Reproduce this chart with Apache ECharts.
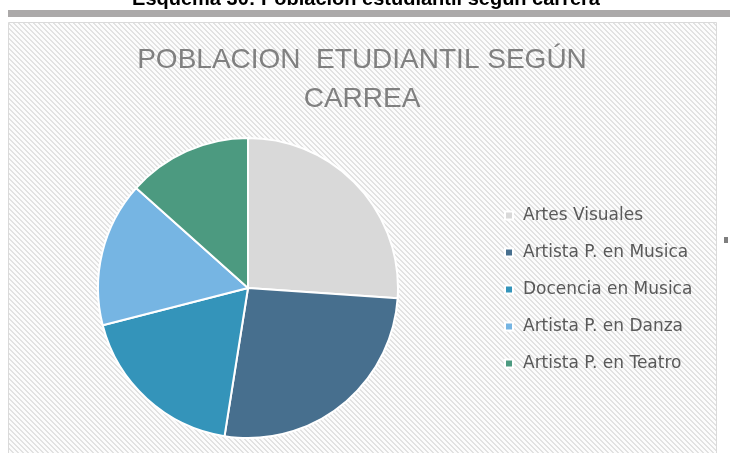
<!DOCTYPE html>
<html>
<head>
<meta charset="utf-8">
<script src="https://cdn.jsdelivr.net/npm/echarts@6/dist/echarts.min.js"></script>
<style>
  html, body { margin: 0; padding: 0; background: #ffffff; }
  #chart { width: 730px; height: 453px; }
</style>
</head>
<body>
<div id="chart"></div>
<script>
// Student population by programme (share of the pie)
const categories = [
  'Artes Visuales',
  'Artista P. en Musica',
  'Docencia en Musica',
  'Artista P. en Danza',
  'Artista P. en Teatro'
];
const values = [26.1, 26.4, 18.5, 15.6, 13.4];
const sliceColors = ['#D9D9D9', '#476F8E', '#3494BA', '#76B5E3', '#4C9A80'];
const chartTitle = 'POBLACION  ETUDIANTIL SEGÚN\nCARREA';
const captionText = 'Esquema 30: Población estudiantil según carrera';

// Light diagonal hatch used as the chart-area fill
function makeHatch() {
  const n = 5;
  const c = document.createElement('canvas');
  c.width = n; c.height = n;
  const ctx = c.getContext('2d');
  const img = ctx.createImageData(n, n);
  for (let y = 0; y < n; y++) {
    for (let x = 0; x < n; x++) {
      const k = ((x - y) % n + n) % n;
      const v = (k === 0 || k === 1) ? 226 : 252;
      const i = (y * n + x) * 4;
      img.data[i] = v; img.data[i + 1] = v; img.data[i + 2] = v; img.data[i + 3] = 255;
    }
  }
  ctx.putImageData(img, 0, 0);
  return c;
}

const chart = echarts.init(document.getElementById('chart'), null, { renderer: 'canvas' });

const option = {
  backgroundColor: '#ffffff',
  animation: false,
  title: {
    text: chartTitle,
    left: 357,
    textAlign: 'center',
    top: 36,
    textStyle: {
      fontFamily: 'Liberation Sans',
      fontSize: 28,
      fontWeight: 'normal',
      color: '#808080',
      lineHeight: 39
    }
  },
  legend: {
    orient: 'vertical',
    left: 499,
    top: 202,
    itemWidth: 8,
    itemHeight: 8,
    itemGap: 20,
    icon: 'rect',
    data: categories,
    textStyle: {
      fontFamily: 'DejaVu Sans',
      fontSize: 17,
      color: '#595959',
      padding: [0, 0, 0, 5]
    }
  },
  graphic: [
    {
      type: 'text',
      z: 10,
      style: {
        text: captionText,
        x: 366,
        y: 9,
        textAlign: 'center',
        textVerticalAlign: 'bottom',
        font: 'bold 20px "Liberation Sans", Arial, sans-serif',
        fill: '#000000'
      }
    },
    {
      type: 'rect',
      z: -10,
      shape: { x: 8, y: 10, width: 722, height: 7 },
      style: { fill: '#ABA9A9' }
    },
    {
      type: 'rect',
      z: -10,
      shape: { x: 8.5, y: 22.5, width: 708, height: 440 },
      style: { fill: { image: makeHatch(), repeat: 'repeat' }, stroke: '#DADADA', lineWidth: 1 }
    },
    {
      type: 'rect',
      z: -5,
      shape: { x: 724, y: 237, width: 4, height: 6 },
      style: { fill: '#7F7F7F' }
    }
  ],
  series: [
    {
      type: 'pie',
      center: [248, 288],
      radius: 150,
      startAngle: 90,
      clockwise: true,
      label: { show: false },
      labelLine: { show: false },
      emphasis: { disabled: true },
      itemStyle: { borderColor: '#ffffff', borderWidth: 2 },
      data: categories.map((name, i) => ({
        name,
        value: values[i],
        itemStyle: { color: sliceColors[i] }
      }))
    }
  ]
};

chart.setOption(option);
</script>
</body>
</html>
